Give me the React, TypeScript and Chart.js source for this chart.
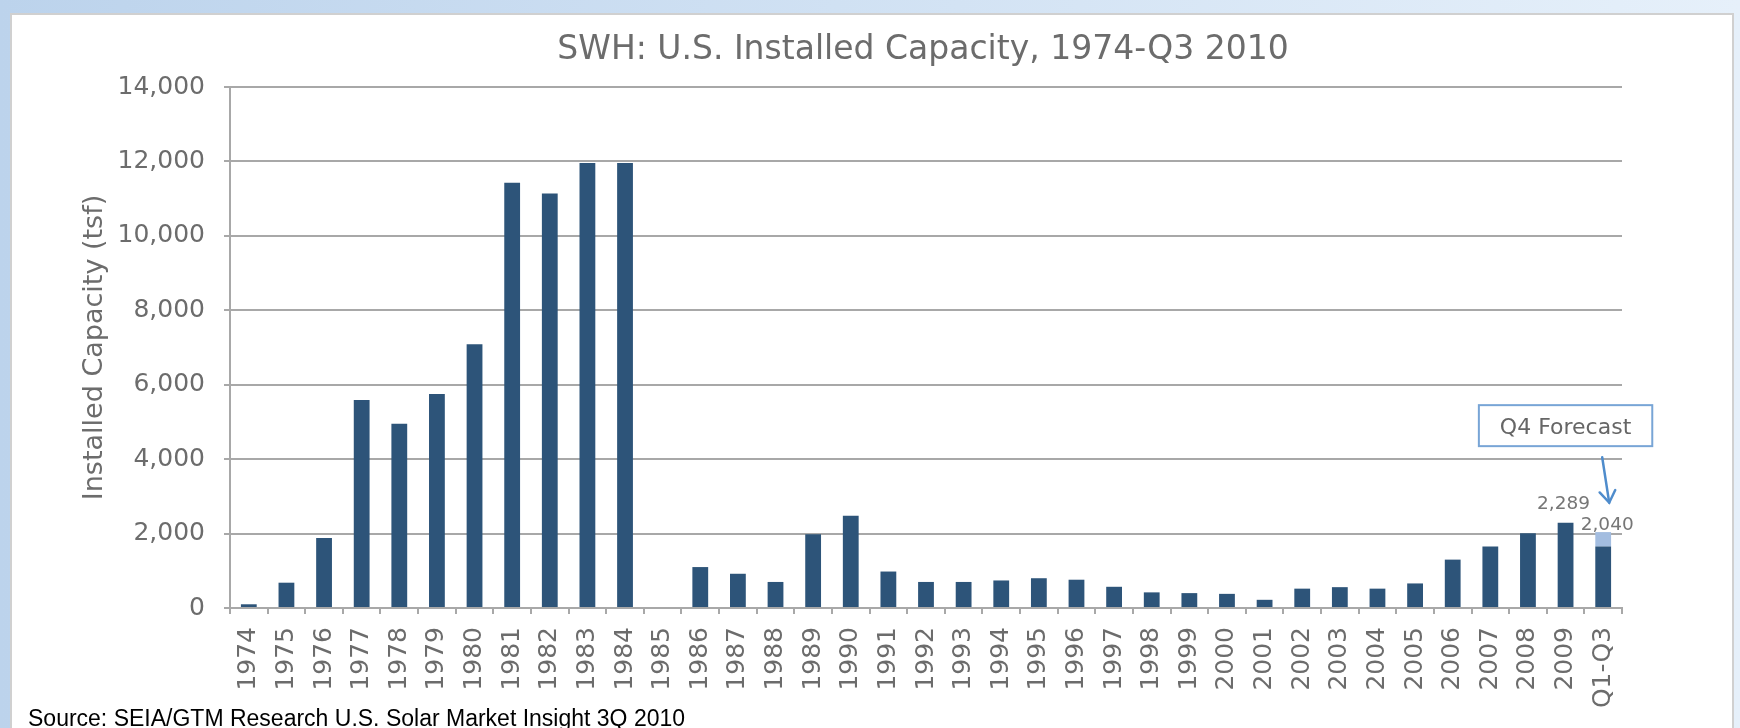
import React, { useEffect, useRef } from 'react';
import { Chart, registerables } from 'chart.js';

Chart.register(...registerables);

// ---------- data ----------
const categories = [
  '1974', '1975', '1976', '1977', '1978', '1979', '1980', '1981', '1982', '1983',
  '1984', '1985', '1986', '1987', '1988', '1989', '1990', '1991', '1992', '1993',
  '1994', '1995', '1996', '1997', '1998', '1999', '2000', '2001', '2002', '2003',
  '2004', '2005', '2006', '2007', '2008', '2009', 'Q1-Q3',
];

const installed = [
  100, 680, 1880, 5590, 4950, 5750, 7090, 11430, 11140, 11960,
  11960, 0, 1100, 920, 700, 1980, 2480, 980, 700, 700,
  740, 800, 760, 570, 420, 400, 380, 220, 520, 560,
  520, 660, 1300, 1650, 2010, 2289, 1650,
];

const q4Forecast = [
  null, null, null, null, null, null, null, null, null, null,
  null, null, null, null, null, null, null, null, null, null,
  null, null, null, null, null, null, null, null, null, null,
  null, null, null, null, null, null, 390,
];

const yMin = 0;
const yMax = 14000;
const yStep = 2000;

const chartTitle = 'SWH: U.S. Installed Capacity, 1974-Q3 2010';
const yAxisTitle = 'Installed Capacity (tsf)';
const sourceText = 'Source: SEIA/GTM Research U.S. Solar Market Insight 3Q 2010';
const forecastNote = 'Q4 Forecast';

// bars that carry a value label (category index, shown total)
const labelledIndexes = [35, 36];
const labelledTotals = [2289, 2040];

// note box anchor (category index, value) and arrow (from value to value on last category)
const noteAnchorIndex = 35;
const noteAnchorValue = 4900;
const arrowFromValue = 4050;
const arrowToValue = 2830;

// ---------- styles ----------
const FONT = '"DejaVu Sans", "Liberation Sans", Arial, sans-serif';
const GRID = '#a8a8a8';
const TEXT = '#6c6c6c';
const BAR = '#2d5479';
const BAR_LIGHT = '#a3bde0';
const NOTE_BORDER = '#78a5d6';
const ARROW = '#4f8ccc';

const overlayPlugin = {
  id: 'overlay',
  afterDatasetsDraw(chart: any) {
    const { ctx, chartArea } = chart;
    const x = chart.scales.x;
    const y = chart.scales.y;
    ctx.save();

    // title
    ctx.fillStyle = TEXT;
    ctx.font = `33px ${FONT}`;
    ctx.textAlign = 'center';
    ctx.textBaseline = 'alphabetic';
    ctx.fillText(chartTitle, (chartArea.left + chartArea.right) / 2 - 3, 59);

    // value labels
    ctx.font = `18.5px ${FONT}`;
    ctx.fillStyle = '#767676';
    labelledIndexes.forEach((idx, i) => {
      const total = labelledTotals[i];
      const px = x.getPixelForValue(idx);
      const py = y.getPixelForValue(total);
      const last = idx === categories.length - 1;
      const text = total.toLocaleString('en-US');
      ctx.fillText(text, px + (last ? 4 : -2), py - (last ? 2.5 : 14));
    });

    // note box
    ctx.font = `22px ${FONT}`;
    const tw = ctx.measureText(forecastNote).width;
    const bw = tw + 42;
    const bh = 41;
    const cx = x.getPixelForValue(noteAnchorIndex);
    const cy = y.getPixelForValue(noteAnchorValue);
    ctx.fillStyle = '#ffffff';
    ctx.fillRect(cx - bw / 2, cy - bh / 2, bw, bh);
    ctx.strokeStyle = NOTE_BORDER;
    ctx.lineWidth = 2;
    ctx.strokeRect(cx - bw / 2, cy - bh / 2, bw, bh);
    ctx.fillStyle = '#666666';
    ctx.textAlign = 'center';
    ctx.fillText(forecastNote, cx, cy + 8);

    // arrow
    const lastIdx = categories.length - 1;
    const ax0 = x.getPixelForValue(lastIdx) - 1;
    const ay0 = y.getPixelForValue(arrowFromValue);
    const ax1 = x.getPixelForValue(lastIdx + 0.16);
    const ay1 = y.getPixelForValue(arrowToValue);
    ctx.strokeStyle = ARROW;
    ctx.lineWidth = 2.5;
    ctx.lineCap = 'round';
    ctx.beginPath();
    ctx.moveTo(ax0, ay0);
    ctx.lineTo(ax1, ay1);
    ctx.stroke();
    const ang = Math.atan2(ay1 - ay0, ax1 - ax0);
    const hl = 14;
    const spread = 0.6;
    ctx.beginPath();
    ctx.moveTo(ax1 - hl * Math.cos(ang - spread), ay1 - hl * Math.sin(ang - spread));
    ctx.lineTo(ax1, ay1);
    ctx.lineTo(ax1 - hl * Math.cos(ang + spread), ay1 - hl * Math.sin(ang + spread));
    ctx.stroke();

    ctx.restore();
  },
};

export default function App() {
  const canvasRef = useRef<HTMLCanvasElement | null>(null);

  useEffect(() => {
    if (!canvasRef.current) return;
    const chart = new Chart(canvasRef.current, {
      type: 'bar',
      data: {
        labels: categories,
        datasets: [
          {
            label: 'Installed',
            data: installed,
            backgroundColor: BAR,
            borderWidth: 0,
            barPercentage: 0.42,
            categoryPercentage: 1,
          },
          {
            label: 'Q4 Forecast',
            data: q4Forecast as any,
            backgroundColor: BAR_LIGHT,
            borderWidth: 0,
            barPercentage: 0.42,
            categoryPercentage: 1,
          },
        ],
      },
      options: {
        responsive: false,
        animation: false,
        locale: 'en-US',
        layout: { padding: { left: 0, right: 118, top: 87, bottom: 0 } },
        plugins: {
          legend: { display: false },
          title: { display: false },
          tooltip: { enabled: false },
        },
        scales: {
          x: {
            stacked: true,
            offset: true,
            grid: {
              offset: true,
              drawOnChartArea: false,
              drawTicks: true,
              tickLength: 6,
              color: GRID,
              lineWidth: 2,
            },
            border: { display: true, color: GRID, width: 2 },
            ticks: {
              autoSkip: false,
              minRotation: 90,
              maxRotation: 90,
              padding: 13,
              color: TEXT,
              font: { family: FONT, size: 25 },
            },
            afterFit: (s: any) => {
              s.height = 120;
            },
          },
          y: {
            stacked: true,
            min: yMin,
            max: yMax,
            ticks: {
              stepSize: yStep,
              padding: 19,
              color: TEXT,
              font: { family: FONT, size: 25 },
            },
            grid: {
              color: GRID,
              lineWidth: 2,
              drawTicks: true,
              tickLength: 6,
            },
            border: { display: true, color: GRID, width: 2 },
            title: {
              display: true,
              text: yAxisTitle,
              color: TEXT,
              font: { family: FONT, size: 27 },
              padding: { top: 79, bottom: 0 },
            },
            afterFit: (s: any) => {
              s.width = 230;
            },
          },
        },
      } as any,
      plugins: [overlayPlugin],
    });
    return () => chart.destroy();
  }, []);

  return (
    <div
      style={{
        position: 'fixed',
        left: 0,
        top: 0,
        width: 1740,
        height: 728,
        overflow: 'hidden',
        background: 'linear-gradient(90deg, #bcd3ec 0%, #d3e3f4 55%, #e6f0fa 100%)',
      }}
    >
      <div
        style={{
          position: 'absolute',
          left: 10,
          top: 13,
          width: 1724,
          height: 740,
          background: '#ffffff',
          border: '2px solid #d0d0d0',
          boxSizing: 'border-box',
        }}
      />
      <canvas
        ref={canvasRef}
        width={1740}
        height={728}
        style={{ position: 'absolute', left: 0, top: 0, width: 1740, height: 728 }}
      />
      <div
        style={{
          position: 'absolute',
          left: 28,
          top: 707,
          fontFamily: '"Liberation Sans", Arial, sans-serif',
          fontSize: 23,
          lineHeight: '23px',
          color: '#000000',
          whiteSpace: 'nowrap',
        }}
      >
        {sourceText}
      </div>
    </div>
  );
}
